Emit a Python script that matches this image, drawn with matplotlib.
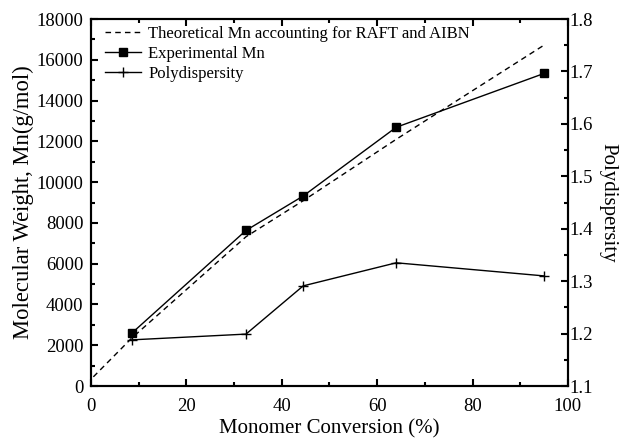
import numpy as np
import matplotlib
matplotlib.use("Agg")
import matplotlib.pyplot as plt
from matplotlib.ticker import MultipleLocator

plt.rcParams['font.family'] = ['Liberation Serif', 'DejaVu Serif']
plt.rcParams['mathtext.fontset'] = 'stix'

# data
theory_x = [0.5, 8.5, 32.5, 44.5, 64, 95]
theory_mn = [450, 2340, 7320, 9090, 12100, 16720]
conv = [8.5, 32.5, 44.5, 64, 95]
exp_mn = [2580, 7630, 9320, 12690, 15330]
pdi = [1.188, 1.199, 1.291, 1.335, 1.310]

fig = plt.figure(figsize=(6.21, 4.38), dpi=100)
ax = fig.add_axes([0.1465, 0.1187, 0.768, 0.8379])
ax2 = ax.twinx()

l1, = ax.plot(theory_x, theory_mn, color='black', lw=1, ls=(0, (4, 3)),
              label='Theoretical Mn accounting for RAFT and AIBN')
l2, = ax.plot(conv, exp_mn, color='black', lw=1, marker='s', ms=5.5,
              label='Experimental Mn')
l3, = ax2.plot(conv, pdi, color='black', lw=1, marker='+', ms=7.5, mew=1,
               label='Polydispersity')

ax.set_xlim(0, 100)
ax.set_ylim(0, 18000)
ax2.set_ylim(1.1, 1.8)

ax.xaxis.set_major_locator(MultipleLocator(20))
ax.xaxis.set_minor_locator(MultipleLocator(10))
ax.yaxis.set_major_locator(MultipleLocator(2000))
ax.yaxis.set_minor_locator(MultipleLocator(1000))
ax2.yaxis.set_major_locator(MultipleLocator(0.1))
ax2.yaxis.set_minor_locator(MultipleLocator(0.05))

ax.tick_params(which='both', direction='in', top=True, right=False, labelsize=13.5, width=1.5)
ax.tick_params(which='major', length=5)
ax.tick_params(which='minor', length=3)
ax.tick_params(axis='x', which='major', pad=8.5)
ax.tick_params(axis='y', which='major', pad=5.5)
ax2.tick_params(which='both', direction='in', labelsize=13.5, width=1.5)
ax2.tick_params(which='major', length=5, pad=1)
ax2.tick_params(which='minor', length=3)
ax2.set_yticks(ax2.get_yticks())
ax2.set_yticklabels([f'{v:.1f}' for v in ax2.get_yticks()])
ax2.set_ylim(1.1, 1.8)

for a in (ax, ax2):
    for s in a.spines.values():
        s.set_linewidth(1.5)

ax.set_xlabel('Monomer Conversion (%)', fontsize=15, labelpad=3)
ax.set_ylabel('Molecular Weight, Mn(g/mol)', fontsize=16.3, labelpad=2)
ax2.set_ylabel('Polydispersity', fontsize=15, rotation=270, labelpad=18)

ax.legend(handles=[l1, l2, l3], loc='upper left', frameon=False, fontsize=12,
          handlelength=2.2, handletextpad=0.4, labelspacing=0.25,
          borderaxespad=0, bbox_to_anchor=(0.015, 1.0))

fig.savefig('out.png', dpi=100)
